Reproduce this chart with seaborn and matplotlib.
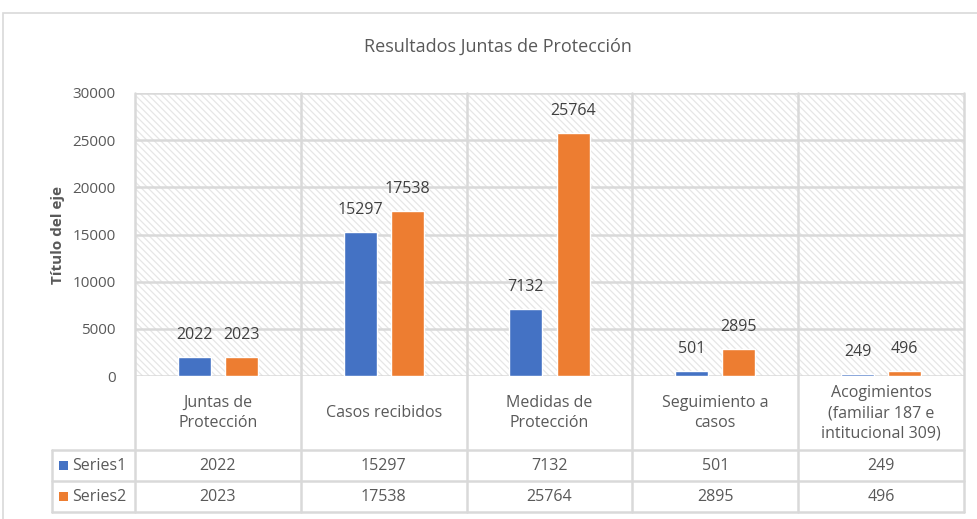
"""
Resultados Juntas de Protección - grouped bars with an Excel-style data table.
"""

import pandas as pd
import seaborn as sns
import matplotlib.pyplot as plt
from matplotlib.patches import Rectangle
from matplotlib.transforms import blended_transform_factory


categories = ["Juntas de\nProtección", "Casos recibidos", "Medidas de\nProtección",
              "Seguimiento a\ncasos", "Acogimientos\n(familiar 187 e\nintitucional 309)"]
series_names = ["Series1", "Series2"]
series1 = [2022, 15297, 7132, 501, 249]
series2 = [2023, 17538, 25764, 2895, 496]
yticks = [0, 5000, 10000, 15000, 20000, 25000, 30000]

colors = ["#4472C4", "#ED7D31"]
text_color = "#595959"
grid_color = "#D9D9D9"


def build_frame():
    rows = []
    for i, cat in enumerate(categories):
        rows.append({"cat": cat, "serie": series_names[0], "valor": series1[i]})
        rows.append({"cat": cat, "serie": series_names[1], "valor": series2[i]})
    return pd.DataFrame(rows)


def main():
    sns.set_theme(style="white")
    plt.rcParams["font.family"] = ["Open Sans", "DejaVu Sans"]
    plt.rcParams["hatch.linewidth"] = 0.9

    fig = plt.figure(figsize=(9.78, 5.19), dpi=100)
    ax = fig.add_axes([135 / 978, 1 - 376 / 519, 829 / 978, 283 / 519])

    # outer chart border
    fig.patches.append(Rectangle((3 / 978, -0.05), 1.1, 1 - 13 / 519 + 0.05,
                                 transform=fig.transFigure, fill=False,
                                 edgecolor=grid_color, linewidth=1.2))

    # hatched plot area
    ax.add_patch(Rectangle((0, 0), 1, 1, transform=ax.transAxes, facecolor="white",
                           edgecolor="#E6E6E6", hatch="\\\\\\\\\\", linewidth=0, zorder=0))

    df = build_frame()
    sns.barplot(data=df, x="cat", y="valor", hue="serie", palette=colors,
                width=0.57, gap=0.3, ax=ax, legend=False, zorder=3, saturation=1)

    ax.set_xlim(-0.5, 4.5)
    ax.set_ylim(0, 30000)
    ax.set_yticks(yticks)
    ax.set_yticklabels([str(t) for t in yticks], fontsize=11, color=text_color)
    ax.tick_params(axis="y", length=0, pad=14)
    ax.set_xticks([])
    ax.set_xlabel("")
    ax.set_ylabel("Título del eje", fontsize=11, fontweight="bold",
                  color=text_color, labelpad=5)
    for s in ax.spines.values():
        s.set_visible(False)

    # horizontal gridlines
    for t in yticks:
        ax.axhline(t, color=grid_color, linewidth=1.8, zorder=1)

    # data labels
    for cont in ax.containers:
        ax.bar_label(cont, fmt="%d", padding=10, fontsize=11.5, color="#404040")

    # data table
    tr = blended_transform_factory(ax.transData, ax.transAxes)
    y_cat = -74 / 283
    y_s1 = -105 / 283
    y_s2 = -136 / 283
    lw = 1.8
    for xb in [-0.5, 0.5, 1.5, 2.5, 3.5, 4.5]:
        ax.plot([xb, xb], [1, y_s2], color=grid_color, lw=lw, transform=tr,
                clip_on=False, zorder=1)
    ax.plot([-1, -1], [y_cat, y_s2], color=grid_color, lw=lw, transform=tr, clip_on=False)
    for yb in [y_cat, y_s1, y_s2]:
        ax.plot([-1, 4.5], [yb, yb], color=grid_color, lw=lw, transform=tr, clip_on=False)

    for i, cat in enumerate(categories):
        ax.text(i, y_cat / 2, cat, transform=tr, ha="center", va="center",
                fontsize=11.5, color=text_color, linespacing=1.35)
        ax.text(i, (y_cat + y_s1) / 2, str(series1[i]), transform=tr, ha="center",
                va="center", fontsize=11.5, color=text_color)
        ax.text(i, (y_s1 + y_s2) / 2, str(series2[i]), transform=tr, ha="center",
                va="center", fontsize=11.5, color=text_color)

    for name, col, (ya, yb) in zip(series_names, colors, [(y_cat, y_s1), (y_s1, y_s2)]):
        ym = (ya + yb) / 2
        ax.add_patch(Rectangle((-0.96, ym - 0.017), 0.055, 0.034, transform=tr,
                               facecolor=col, edgecolor="none", clip_on=False))
        ax.text(-0.88, ym, name, transform=tr, ha="left", va="center",
                fontsize=11.5, color=text_color)

    fig.text(498 / 978, 1 - 47 / 519, "Resultados Juntas de Protección",
             ha="center", va="center", fontsize=13, color=text_color)

    fig.savefig("out.png", dpi=100)


if __name__ == "__main__":
    main()
